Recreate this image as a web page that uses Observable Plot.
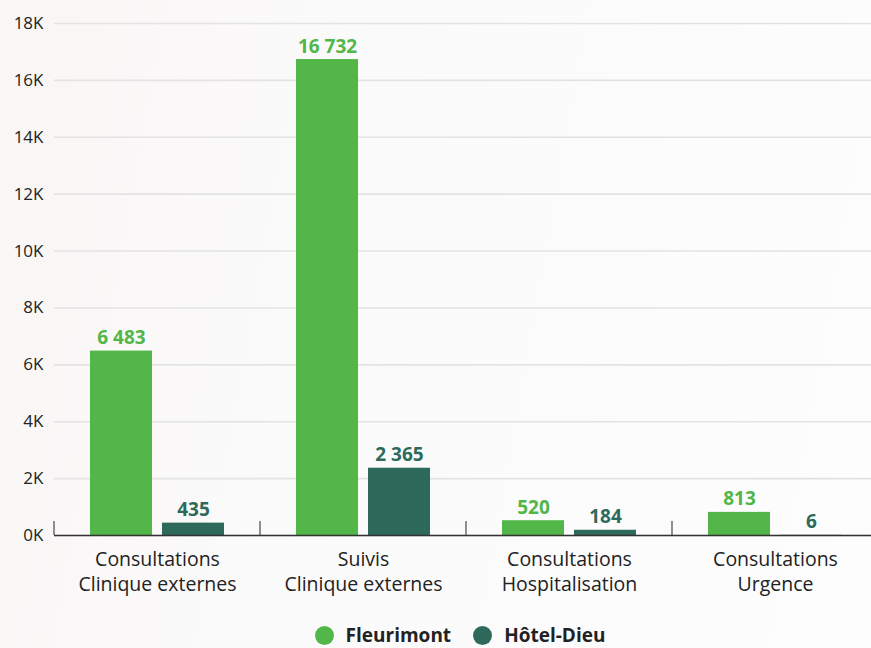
<!DOCTYPE html>
<html>
<head>
<meta charset="utf-8">
<script src="https://cdn.jsdelivr.net/npm/d3@7"></script>
<script src="https://cdn.jsdelivr.net/npm/@observablehq/plot@0.6"></script>
<style>
  html, body { margin: 0; padding: 0; overflow: hidden; }
  body { width: 871px; height: 648px; background: linear-gradient(100deg, #f9f6f5 0%, #fbfafa 35%, #fdfdfd 100%); font-family: "Open Sans", sans-serif; }
  #chart { width: 878px; position: relative; }
  #legend { position: absolute; top: 624px; left: 0; width: 920px; display: flex; justify-content: center; gap: 22px; font-family: "Open Sans", sans-serif; font-weight: 700; font-size: 19px; line-height: 22px; color: #222; }
  #legend .item { display: flex; align-items: center; gap: 12px; }
  #legend .dot { width: 19px; height: 19px; border-radius: 50%; display: inline-block; }
</style>
</head>
<body>
<div id="chart"></div>
<div id="legend"></div>
<script>
const categories = ["Consultations Clinique externes", "Suivis Clinique externes", "Consultations Hospitalisation", "Consultations Urgence"];
const categoryLines = ["Consultations\nClinique externes", "Suivis\nClinique externes", "Consultations\nHospitalisation", "Consultations\nUrgence"];
const series = ["Fleurimont", "Hôtel-Dieu"];
const fleurimont = [6483, 16732, 520, 813];
const hotelDieu = [435, 2365, 184, 6];
const seriesColors = ["#52b648", "#2e6a5b"];
const yTicks = [0, 2000, 4000, 6000, 8000, 10000, 12000, 14000, 16000, 18000];

const data = [];
categories.forEach((c, i) => {
  data.push({category: c, series: series[0], value: fleurimont[i]});
  data.push({category: c, series: series[1], value: hotelDieu[i]});
});

const fr = d3.formatLocale({decimal: ",", thousands: "\u202f", grouping: [3], currency: ["", " €"]});
const fmt = v => fr.format(",d")(v).replace(/\u202f/g, " ");

const chart = Plot.plot({
  width: 878,
  height: 610,
  marginLeft: 53,
  marginRight: 0,
  marginTop: 23,
  marginBottom: 75,
  style: {background: "transparent", fontFamily: "Open Sans, sans-serif", overflow: "visible"},
  fx: {domain: categories, padding: 0},
  x: {domain: series, paddingInner: 0.139, paddingOuter: 0.5, axis: null},
  y: {domain: [0, 18000], axis: null},
  color: {domain: series, range: seriesColors},
  marks: [
    Plot.gridY(yTicks, {stroke: "#e3e3e3", strokeOpacity: 1, strokeWidth: 1.6}),
    Plot.axisY(yTicks, {facetAnchor: "left", tickSize: 0, tickPadding: 11, tickFormat: d => (d / 1000) + "K", fontSize: 17, fill: "#222", label: null}),
    Plot.axisFx({anchor: "bottom", tickSize: 0, tickPadding: 12, tickFormat: c => categoryLines[categories.indexOf(c)], fontSize: 19.5, fill: "#222", lineHeight: 1.3, label: null}),
    Plot.barY(data, {fx: "category", x: "series", y: "value", fill: "series"}),
    Plot.ruleY([0], {stroke: "#333", strokeWidth: 1.5}),
    Plot.text(data, {fx: "category", x: "series", y: "value", text: d => fmt(d.value), fill: "series", lineAnchor: "bottom", dy: -7, fontSize: 19, fontWeight: 700})
  ]
});

document.getElementById("chart").appendChild(chart);

// boundary tick marks at the left edge of each category band
const fxScale = chart.scale("fx");
const yScale = chart.scale("y");
const svg = d3.select(chart.tagName.toLowerCase() === "svg" ? chart : chart.querySelector("svg"));
const y0 = yScale.apply(0);
categories.forEach(c => {
  const xPos = fxScale.apply(c);
  svg.append("line")
    .attr("x1", xPos).attr("x2", xPos)
    .attr("y1", y0).attr("y2", y0 - 14)
    .attr("stroke", "#555").attr("stroke-width", 1.3);
});

const legend = document.getElementById("legend");
series.forEach((s, i) => {
  const item = document.createElement("div");
  item.className = "item";
  item.innerHTML = `<span class="dot" style="background:${seriesColors[i]}"></span><span>${s}</span>`;
  legend.appendChild(item);
});
</script>
</body>
</html>
